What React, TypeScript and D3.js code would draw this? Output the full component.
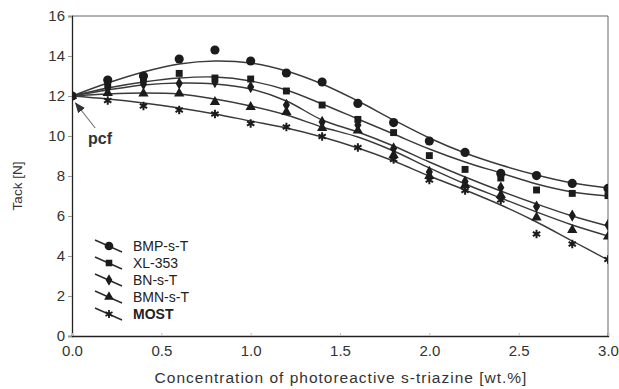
import { useEffect, useRef } from "react";
import * as d3 from "d3";

// concentration of photoreactive s-triazine [wt.%]
const conc = [0, 0.2, 0.4, 0.6, 0.8, 1.0, 1.2, 1.4, 1.6, 1.8, 2.0, 2.2, 2.4, 2.6, 2.8, 3.0];

// measured tack [N]
const bmpPoints = [12.0, 12.8, 13.0, 13.85, 14.3, 13.75, 13.15, 12.7, 11.63, 10.67, 9.75, 9.18, 8.13, 8.02, 7.63, 7.38];
const xlPoints = [12.0, 12.6, 12.85, 13.13, 12.9, 12.85, 12.25, 11.55, 10.83, 10.17, 9.02, 8.33, 7.9, 7.3, 7.13, 7.02];
const bnPoints = [12.0, 12.4, 12.6, 12.63, 12.7, 12.45, 11.55, 10.7, 10.55, 9.38, 8.2, 7.72, 7.42, 6.47, 6.02, 5.55];
const bmnPoints = [12.0, 12.15, 12.13, 12.13, 11.7, 11.45, 11.2, 10.4, 10.27, 9.05, 8.0, 7.55, 7.05, 5.93, 5.3, 4.97];
const mostPoints = [12.0, 11.77, 11.5, 11.3, 11.1, 10.63, 10.45, 9.97, 9.43, 8.83, 7.8, 7.27, 6.8, 5.1, 4.6, 3.83];

// fitted trend lines at the same concentrations
const bmpTrend = [12.0, 12.65, 13.2, 13.6, 13.75, 13.65, 13.25, 12.6, 11.75, 10.8, 9.9, 9.15, 8.55, 8.05, 7.65, 7.4];
const xlTrend = [12.0, 12.4, 12.7, 12.9, 12.95, 12.75, 12.3, 11.6, 10.85, 10.1, 9.35, 8.7, 8.15, 7.6, 7.2, 7.0];
const bnTrend = [12.0, 12.3, 12.55, 12.65, 12.6, 12.35, 11.75, 10.8, 10.2, 9.5, 8.7, 7.95, 7.25, 6.6, 6.0, 5.5];
const bmnTrend = [12.0, 12.1, 12.15, 12.1, 11.85, 11.5, 11.05, 10.45, 9.95, 9.25, 8.4, 7.6, 6.9, 6.2, 5.55, 5.0];
const mostTrend = [12.0, 11.85, 11.65, 11.4, 11.1, 10.75, 10.4, 9.95, 9.4, 8.75, 8.0, 7.3, 6.55, 5.7, 4.75, 3.8];

const seriesNames = ["BMP-s-T", "XL-353", "BN-s-T", "BMN-s-T", "MOST"];
const xTicks = [0, 0.5, 1.0, 1.5, 2.0, 2.5, 3.0];
const yTicks = [0, 2, 4, 6, 8, 10, 12, 14, 16];

const W = 619;
const H = 389;
const margin = { top: 16, right: 11, bottom: 53, left: 72 };
const FONT = "'Liberation Sans', Arial, sans-serif";

export default function App() {
  const svgRef = useRef<SVGSVGElement>(null);

  useEffect(() => {
    if (!svgRef.current) return;
    const svg = d3.select(svgRef.current);
    svg.selectAll("*").remove();

    const innerW = W - margin.left - margin.right;
    const innerH = H - margin.top - margin.bottom;

    const x = d3.scaleLinear().domain([0, 3]).range([0, innerW]);
    const y = d3.scaleLinear().domain([0, 16]).range([innerH, 0]);

    const series = [
      { name: seriesNames[0], pts: bmpPoints, trend: bmpTrend, sym: d3.symbolCircle, size: 66, stroke: false },
      { name: seriesNames[1], pts: xlPoints, trend: xlTrend, sym: d3.symbolSquare, size: 48, stroke: false },
      { name: seriesNames[2], pts: bnPoints, trend: bnTrend, sym: d3.symbolDiamond, size: 44, stroke: false },
      { name: seriesNames[3], pts: bmnPoints, trend: bmnTrend, sym: d3.symbolTriangle, size: 46, stroke: false },
      { name: seriesNames[4], pts: mostPoints, trend: mostTrend, sym: d3.symbolAsterisk, size: 50, stroke: true },
    ];

    const defs = svg.append("defs");
    defs
      .append("clipPath")
      .attr("id", "plot-clip")
      .append("rect")
      .attr("width", innerW)
      .attr("height", innerH);

    const g = svg
      .append("g")
      .attr("transform", `translate(${margin.left},${margin.top})`);

    // frame (top + right)
    g.append("path")
      .attr("d", `M0,0H${innerW}V${innerH}`)
      .attr("fill", "none")
      .attr("stroke", "#666")
      .attr("stroke-width", 1);

    // axes
    const yAxis = g.append("g").call(d3.axisLeft(y).tickValues(yTicks).tickSize(4).tickFormat(d3.format("d")));
    yAxis.select(".domain").attr("stroke", "#222").attr("stroke-width", 1.3);
    yAxis.selectAll(".tick line").attr("stroke", "#999");
    yAxis
      .selectAll(".tick text")
      .attr("font-family", FONT)
      .attr("font-size", 15)
      .attr("fill", "#333")
      .attr("x", -7);

    const xAxis = g
      .append("g")
      .attr("transform", `translate(0,${innerH})`)
      .call(d3.axisBottom(x).tickValues(xTicks).tickSize(-3).tickFormat(d3.format(".1f")));
    xAxis.select(".domain").attr("stroke", "#222").attr("stroke-width", 1.3);
    xAxis.selectAll(".tick line").attr("stroke", "#bbb");
    xAxis
      .selectAll(".tick text")
      .attr("font-family", FONT)
      .attr("font-size", 15)
      .attr("fill", "#333")
      .attr("y", 9);

    // trend lines
    const line = d3
      .line<number>()
      .x((_, i) => x(conc[i]))
      .y((d) => y(d))
      .curve(d3.curveCatmullRom.alpha(0.5));

    const plot = g.append("g").attr("clip-path", "url(#plot-clip)");

    series.forEach((s) => {
      plot
        .append("path")
        .datum(s.trend)
        .attr("fill", "none")
        .attr("stroke", "#3a3a3a")
        .attr("stroke-width", 1.4)
        .attr("d", line);
    });

    // markers
    series.forEach((s) => {
      const sym = d3.symbol().type(s.sym).size(s.size);
      plot
        .selectAll(null)
        .data(s.pts)
        .join("path")
        .attr("transform", (d, i) => `translate(${x(conc[i])},${y(d)})`)
        .attr("d", sym)
        .attr("fill", s.stroke ? "none" : "#1c1c1c")
        .attr("stroke", s.stroke ? "#1c1c1c" : "none")
        .attr("stroke-width", s.stroke ? 2 : 0);
    });

    // legend
    const legend = g
      .append("g")
      .attr("font-family", FONT)
      .attr("font-size", 14)
      .attr("fill", "#222")
      .selectAll("g")
      .data(series)
      .join("g")
      .attr("transform", (_, i) => `translate(${37},${230 + i * 17})`);

    legend
      .append("line")
      .attr("x1", -14)
      .attr("y1", -6)
      .attr("x2", 13)
      .attr("y2", 6)
      .attr("stroke", "#2a2a2a")
      .attr("stroke-width", 1.4);

    legend
      .append("path")
      .attr("d", (s) => d3.symbol().type(s.sym).size(s.size * 0.9)())
      .attr("fill", (s) => (s.stroke ? "none" : "#1c1c1c"))
      .attr("stroke", (s) => (s.stroke ? "#1c1c1c" : "none"))
      .attr("stroke-width", (s) => (s.stroke ? 1.8 : 0));

    legend
      .append("text")
      .attr("x", 24)
      .attr("y", 5)
      .attr("font-weight", (s) => (s.name === "MOST" ? "bold" : "normal"))
      .text((s) => s.name);

    // pcf annotation
    defs
      .append("marker")
      .attr("id", "arrow")
      .attr("viewBox", "0 0 10 10")
      .attr("refX", 9)
      .attr("refY", 5)
      .attr("markerWidth", 9)
      .attr("markerHeight", 9)
      .attr("orient", "auto")
      .append("path")
      .attr("d", "M0,1L10,5L0,9z")
      .attr("fill", "#333");
    const ann = g.append("g");
    ann
      .append("line")
      .attr("x1", x(0.13))
      .attr("y1", y(10.4))
      .attr("x2", x(0.02))
      .attr("y2", y(11.65))
      .attr("stroke", "#777")
      .attr("stroke-width", 1.2)
      .attr("marker-end", "url(#arrow)");
    ann
      .append("text")
      .attr("x", x(0.09))
      .attr("y", y(9.6))
      .attr("font-family", FONT)
      .attr("font-size", 16)
      .attr("font-weight", "bold")
      .attr("fill", "#333")
      .text("pcf");

    // axis titles
    svg
      .append("text")
      .attr("x", margin.left + innerW / 2 + 1)
      .attr("y", 383)
      .attr("text-anchor", "middle")
      .attr("font-family", FONT)
      .attr("font-size", 15.5)
      .attr("letter-spacing", 1)
      .attr("fill", "#333")
      .text("Concentration of photoreactive s-triazine [wt.%]");

    svg
      .append("text")
      .attr("transform", `translate(22,${186}) rotate(-90)`)
      .attr("text-anchor", "middle")
      .attr("font-family", FONT)
      .attr("font-size", 13.5)
      .attr("fill", "#333")
      .text("Tack [N]");
  }, []);

  return (
    <svg
      ref={svgRef}
      width={W}
      height={H}
      style={{ position: "absolute", left: 0, top: 0, background: "#fff" }}
    />
  );
}
